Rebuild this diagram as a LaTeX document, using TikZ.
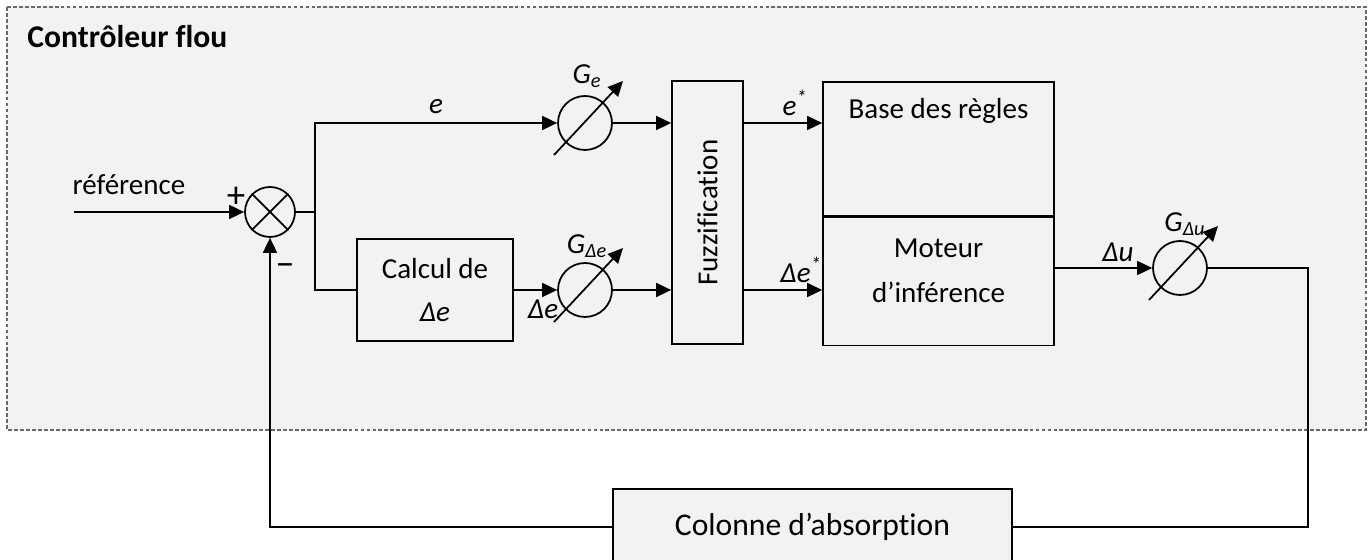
\documentclass[tikz,border=0pt]{standalone}
\usepackage{fontspec}
\setmainfont{Carlito}[Ligatures=NoCommon]
\usetikzlibrary{arrows.meta, positioning, calc}
\definecolor{cPanel}{RGB}{242,242,242}
\definecolor{cDash}{RGB}{105,105,105}
\newcommand{\diagfont}{\fontsize{16.5}{24}\selectfont}
\tikzset{
	block/.style={rectangle, draw=black, line width=1pt, fill=cPanel, align=center, inner sep=0pt},
	gain/.style={circle, draw=black, line width=1pt, minimum size=1.08cm, inner sep=0pt},
	sumnode/.style={circle, draw=black, line width=1pt, minimum size=1cm, inner sep=0pt},
	flowarrow/.style={-{Triangle[length=3mm, width=2.8mm]}, line width=1pt},
	flowline/.style={line width=1pt},
	% italic signal names
	lbl/.style={font=\diagfont\itshape, inner sep=0pt},
	sign/.style={font=\fontsize{21}{24}\selectfont, inner sep=0pt},
}

\begin{document}
\begin{tikzpicture}[x=0.02cm, y=0.02cm, font=\diagfont]
\clip (0,0) rectangle (1370,560);
\useasboundingbox (0,0) rectangle (1370,560);
% controller panel
\draw[cDash, fill=cPanel, line width=0.6pt, dash pattern=on 2.2pt off 1.2pt] (7,553) rectangle (1366,130);
\node (title) [anchor=base west, inner sep=0pt, font=\fontsize{18}{22}\selectfont\bfseries] at (27,512) {Contrôleur flou};

% summing junction
\node (sum) [sumnode] at (270,348) {};
\draw[flowline] (sum.north west) -- (sum.south east) (sum.north east) -- (sum.south west);
\coordinate (in) at (74,348);
\coordinate (split) at (315,348);
\coordinate (corner) at (1308,33);
\node (ref) [anchor=base, inner sep=0pt] at (129,365) {référence};
\node (plus) [sign] at (236,363) {+};
\node (minus) [sign] at (285,290) {−};

% blocks
\node (ge) [gain] at (585,437) {};
\node (calc) [block, minimum width=3.12cm, minimum height=2.04cm] at (435,270) {Calcul de\\{\itshape Δe}};
\node (gde) [gain] at (585,270) {};
\node (fuzz) [block, minimum width=1.42cm, minimum height=5.26cm] at (707.5,347.5) {\rotatebox{90}{Fuzzification}};
\node (base) [block, minimum width=4.62cm, minimum height=2.68cm, anchor=north] at (938.5,479) {};
\node (moteur) [block, minimum width=4.62cm, minimum height=2.56cm, anchor=north] at (base.south) {};
\node (btxt) [anchor=base, inner sep=0pt] at (938.5,441) {Base des règles};
\node (mtxt) [align=center, inner sep=0pt, font=\fontsize{16.5}{25.5}\selectfont] at (938.5,289) {Moteur\\d’inférence};
\node (gdu) [gain] at (1180,292) {};
\node (col) [block, minimum width=7.98cm, minimum height=1.52cm, font=\fontsize{18}{22}\selectfont] at (812.5,33) {Colonne d’absorption};

\foreach \g in {ge, gde, gdu} {
	\draw[flowarrow] ($(\g)+(-31,-32)$) -- ($(\g)+(38,42)$);
}
\node (gelbl) [lbl] at ($(ge)+(2,47)$) {G\textsubscript{e}};
\node (gdelbl) [lbl] at ($(gde)+(2,44)$) {G\textsubscript{Δe}};
\node (gdulbl) [lbl] at ($(gdu)+(5,44)$) {G\textsubscript{Δu}};

% signals
\draw[flowarrow] (in) -- (sum.west);
\draw[flowline] (sum.east) -- (split);
\draw[flowarrow] (split) |- (ge.west) node[lbl, pos=0.75, above=0.16cm] {e};
\draw[flowline] (split) |- (calc.west);
\draw[flowarrow] (calc.east) -- (gde.west);
\node (dlbl) [lbl] at (543,251) {Δe};
\draw[flowarrow] (ge.east) -- (ge -| fuzz.west);
\draw[flowarrow] (gde.east) -- (gde -| fuzz.west);
\draw[flowarrow] (ge -| fuzz.east) -- (ge -| base.west);
\node (estar) [lbl] at (795,457) {e\textsuperscript{*}};
\draw[flowarrow] (gde -| fuzz.east) -- (gde -| moteur.west);
\node (destar) [lbl] at (801,290) {Δe\textsuperscript{*}};
\draw[flowarrow] (gdu -| moteur.east) -- (gdu.west);
\node (dulbl) [lbl] at (1118,308) {Δu};
\draw[flowline] (gdu.east) -| (corner) -- (col.east);
\draw[flowarrow] (col.west) -| (sum.south);
\end{tikzpicture}
\end{document}
